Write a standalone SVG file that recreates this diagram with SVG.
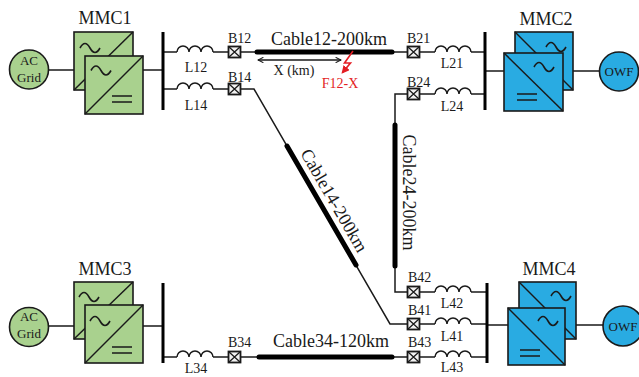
<svg xmlns="http://www.w3.org/2000/svg" width="639" height="377" viewBox="0 0 639 377">
<defs>
<style>
.ln{stroke:#1a1a1a;stroke-width:1.5;fill:none}
.cab{stroke:#000;stroke-width:5;stroke-linecap:round;fill:none}
.bus{stroke:#000;stroke-width:3;fill:none}
.g{fill:#a9d18e;stroke:#1a1a1a;stroke-width:1.6}
.b{fill:#29abe2;stroke:#1a1a1a;stroke-width:1.6}
.t{font-family:"Liberation Serif","Times New Roman",serif;fill:#1a1a1a}
.big{font-size:18px;text-anchor:middle}
.sm{font-size:14px}
.c{font-size:13px;text-anchor:middle}
.red{fill:#e31e24}
</style>
<path id="ind" d="M0 0a6 6 0 0 1 12 0a6 6 0 0 1 12 0a6 6 0 0 1 12 0" class="ln"/>
<g id="brk"><rect x="-6" y="-5.5" width="12" height="11" fill="#f2f2f2" stroke="#1a1a1a" stroke-width="1.8"/><path d="M-6-5.5L6 5.5M6-5.5L-6 5.5" stroke="#1a1a1a" stroke-width="1.3"/></g>
<path id="tl" d="M-10 0Q-5-9 0 0T10 0" fill="none" stroke="#1a1a1a" stroke-width="1.6"/>
<g id="eq"><path d="M0 0h20M0 6h20" stroke="#1a1a1a" stroke-width="1.6"/></g>
<marker id="ah" viewBox="0 0 10 10" refX="9" refY="5" markerWidth="4.5" markerHeight="4.5" orient="auto-start-reverse"><path d="M1 1L9 5L1 9" fill="none" stroke="#1a1a1a" stroke-width="1.6"/></marker>
<marker id="rah" viewBox="0 0 10 10" refX="8" refY="5" markerWidth="5" markerHeight="5" orient="auto"><path d="M0 0L10 5L0 10z" fill="#e31e24"/></marker>
</defs>

<g id="connectors">
<path class="ln" d="M48.5 70H74M143 70H163"/>
<path class="ln" d="M48.5 326H74M143 326H163"/>
<path class="ln" d="M485 71H504M573 71H599.5"/>
<path class="ln" d="M487 325H508M576 325H603"/>
<path class="ln" d="M163 52H177M213 52H228.5M240.5 52H257M392 52H407.5M419.5 52H435M471 52H485"/>
<use href="#ind" x="177" y="52"/><use href="#ind" x="435" y="52"/>
<path class="cab" d="M257 52H392"/>
<path class="ln" d="M163 89H177M213 89H228.5M240.5 89H254L390 324H407.5M419.5 324H435M471 324H487"/>
<use href="#ind" x="177" y="89"/><use href="#ind" x="435" y="324"/>
<path class="cab" d="M287 146L356 265"/>
<path class="ln" d="M407.5 94H395V292H407.5M419.5 94H435M471 94H485M419.5 292H435M471 292H487"/>
<use href="#ind" x="435" y="94"/><use href="#ind" x="435" y="292"/>
<path class="cab" d="M395 125V266"/>
<path class="ln" d="M163 357H177M213 357H228.5M240.5 357H259M392 357H407.5M419.5 357H435M471 357H487"/>
<use href="#ind" x="177" y="357"/><use href="#ind" x="435" y="357"/>
<path class="cab" d="M259 357H392"/>
<path class="bus" d="M163 32V110M485 32V110M163 283V363M487 283V363"/>
<use href="#brk" x="234.5" y="52"/><use href="#brk" x="234.5" y="89"/><use href="#brk" x="234.5" y="357"/>
<use href="#brk" x="413.5" y="52"/><use href="#brk" x="413.5" y="94"/><use href="#brk" x="413.5" y="292"/>
<use href="#brk" x="413.5" y="324"/><use href="#brk" x="413.5" y="357"/>
<path class="ln" d="M258 60H341" marker-start="url(#ah)" marker-end="url(#ah)"/>
<path d="M353 51L344.5 63H350.5L342.5 72.5" fill="none" stroke="#e31e24" stroke-width="1.6" marker-end="url(#rah)"/>
</g>

<g id="labels" class="t">
<text class="sm" x="196" y="72" text-anchor="middle">L12</text>
<text class="sm" x="196" y="110" text-anchor="middle">L14</text>
<text class="sm" x="196" y="373" text-anchor="middle">L34</text>
<text class="sm" x="228" y="43">B12</text>
<text class="sm" x="228" y="82">B14</text>
<text class="sm" x="228" y="347">B34</text>
<text class="sm" x="407" y="43">B21</text>
<text class="sm" x="407" y="87">B24</text>
<text class="sm" x="408" y="282">B42</text>
<text class="sm" x="408" y="315">B41</text>
<text class="sm" x="408" y="347">B43</text>
<text class="sm" x="452" y="68" text-anchor="middle">L21</text>
<text class="sm" x="452" y="111" text-anchor="middle">L24</text>
<text class="sm" x="452" y="308" text-anchor="middle">L42</text>
<text class="sm" x="452" y="341" text-anchor="middle">L41</text>
<text class="sm" x="452" y="372" text-anchor="middle">L43</text>
<text class="big" x="329" y="45">Cable12-200km</text>
<text class="big" x="331" y="347">Cable34-120km</text>
<text class="big" transform="translate(329 203.5) rotate(60)">Cable14-200km</text>
<text class="big" transform="translate(403 192.5) rotate(90)">Cable24-200km</text>
<text class="sm" x="294" y="75" text-anchor="middle">X (km)</text>
<text class="sm red" x="340" y="88" text-anchor="middle">F12-X</text>
</g>

<g id="acgrid1">
<circle cx="29" cy="69.5" r="19.5" class="g"/>
<text class="t c" x="29" y="65">AC</text><text class="t c" x="29" y="82">Grid</text>
</g>
<g id="acgrid3">
<circle cx="29" cy="327" r="19.5" class="g"/>
<text class="t c" x="29" y="321">AC</text><text class="t c" x="29" y="338">Grid</text>
</g>
<g id="owf2">
<circle cx="619" cy="71.5" r="19.5" class="b"/>
<text class="t c" x="619" y="76">OWF</text>
</g>
<g id="owf4">
<circle cx="623" cy="326" r="20" class="b"/>
<text class="t c" x="623" y="330.5">OWF</text>
</g>

<g id="mmc1">
<text class="t big" x="105" y="24">MMC1</text>
<rect x="74" y="32" width="59" height="58" class="g"/>
<path class="ln" d="M74 90L133 32"/>
<use href="#tl" x="90" y="48"/>
<rect x="85" y="56" width="58" height="58" class="g"/>
<path class="ln" d="M85 114L143 56"/>
<use href="#tl" x="101" y="70.5"/>
<use href="#eq" x="112" y="96"/>
</g>
<g id="mmc2">
<text class="t big" x="546" y="25">MMC2</text>
<rect x="515" y="32" width="58" height="58" class="b"/>
<path class="ln" d="M515 32L573 90"/>
<use href="#tl" x="556" y="47"/>
<rect x="504" y="53" width="59" height="58" class="b"/>
<path class="ln" d="M504 53L563 111"/>
<use href="#tl" x="544" y="67"/>
<use href="#eq" x="517" y="94"/>
</g>
<g id="mmc3">
<text class="t big" x="105" y="275">MMC3</text>
<rect x="74" y="282" width="59" height="57" class="g"/>
<path class="ln" d="M74 339L133 282"/>
<use href="#tl" x="89" y="297"/>
<rect x="85" y="305" width="58" height="58" class="g"/>
<path class="ln" d="M85 363L143 305"/>
<use href="#tl" x="100" y="321"/>
<use href="#eq" x="112" y="347"/>
</g>
<g id="mmc4">
<text class="t big" x="549" y="275">MMC4</text>
<rect x="519" y="282" width="57" height="57" class="b"/>
<path class="ln" d="M519 282L576 339"/>
<use href="#tl" x="561" y="296"/>
<rect x="508" y="308" width="57" height="57" class="b"/>
<path class="ln" d="M508 308L565 365"/>
<use href="#tl" x="548" y="321"/>
<use href="#eq" x="520" y="350"/>
</g>
</svg>
